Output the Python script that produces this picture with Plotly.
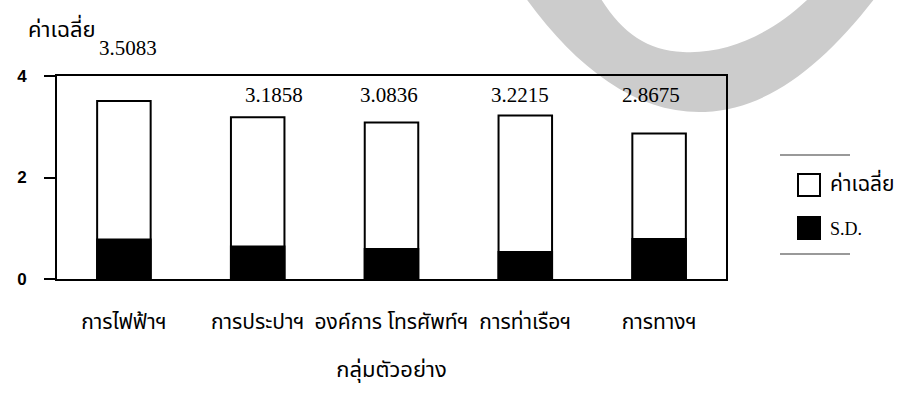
import plotly.graph_objects as go

# ---- data ----
categories = ["การไฟฟ้าฯ", "การประปาฯ", "องค์การ โทรศัพท์ฯ", "การท่าเรือฯ", "การทางฯ"]
means = [3.5083, 3.1858, 3.0836, 3.2215, 2.8675]
sds = [0.78, 0.64, 0.59, 0.53, 0.79]
mean_labels = ["3.5083", "3.1858", "3.0836", "3.2215", "2.8675"]
y_ticks = [0, 2, 4]
series_names = ["ค่าเฉลี่ย", "S.D."]

# ---- layout geometry ----
W, H = 908, 405
L, R, T, B = 57, 182, 76, 126
PW, PH = W - L - R, H - T - B
YMAX = 4

def pxx(x):
    return (x - L) / PW

def pxy(y):
    return (H - B - y) / PH

THAI = "Noto Sans Thai, Noto Sans Thai Looped, Loma, Garuda, sans-serif"
SERIF = "Liberation Serif, Times New Roman, serif"

xs = list(range(len(categories)))

fig = go.Figure()
fig.add_trace(go.Bar(
    x=xs, y=means, name=series_names[0], width=0.4,
    marker=dict(color="white", line=dict(color="black", width=2)),
    showlegend=False,
))
fig.add_trace(go.Bar(
    x=xs, y=sds, name=series_names[1], width=0.4,
    marker=dict(color="black", line=dict(color="black", width=2)),
    showlegend=False,
))

# value labels (placement follows the original chart)
label_dx = [0.03, 0.12, -0.02, -0.04, -0.06]
label_y = [4.55, 3.63, 3.63, 3.63, 3.63]
for i, t in enumerate(mean_labels):
    fig.add_annotation(x=xs[i] + label_dx[i], y=label_y[i] / YMAX, xref="x", yref="paper",
                       text=t, showarrow=False, xanchor="center", yanchor="middle",
                       font=dict(family=SERIF, size=21, color="black"))

# y axis title at top-left
fig.add_annotation(x=pxx(26), y=pxy(31), xref="paper", yref="paper",
                   text="ค่าเฉลี่ย", showarrow=False, xanchor="left", yanchor="middle",
                   font=dict(family=THAI, size=22, color="black"))

# decorative grey watermark arc
pts = "M {a},{b} C {c},{d} {e},{f} {g},{h} C {i},{j} {k},{l} {m},{n} L {o},{p} C {q},{r} {s},{t} {u},{v} C {w},{x} {y},{z} {aa},{bb} Z"
vals = [510, -25, 565, 60, 632, 115, 705, 112, 775, 109, 835, 55, 892, -25,
        830, -25, 790, 25, 735, 55, 683, 52, 640, 50, 612, 25, 588, -25]
conv = []
for k in range(0, len(vals), 2):
    conv += [round(pxx(vals[k]), 5), round(pxy(vals[k + 1]), 5)]
keys = ["a","b","c","d","e","f","g","h","i","j","k","l","m","n","o","p","q","r","s","t","u","v","w","x","y","z","aa","bb"]
path = pts.format(**dict(zip(keys, conv)))
fig.add_shape(type="path", path=path, xref="paper", yref="paper",
              fillcolor="#cccccc", line=dict(width=0), layer="below")

# manual legend
fig.add_shape(type="line", xref="paper", yref="paper",
              x0=pxx(780), x1=pxx(850), y0=pxy(155), y1=pxy(155),
              line=dict(color="#777777", width=1.5))
fig.add_shape(type="line", xref="paper", yref="paper",
              x0=pxx(780), x1=pxx(850), y0=pxy(254), y1=pxy(254),
              line=dict(color="#777777", width=1.5))
fig.add_shape(type="rect", xref="paper", yref="paper",
              x0=pxx(798), x1=pxx(820), y0=pxy(174), y1=pxy(196),
              fillcolor="white", line=dict(color="black", width=2))
fig.add_shape(type="rect", xref="paper", yref="paper",
              x0=pxx(798), x1=pxx(820), y0=pxy(217), y1=pxy(239),
              fillcolor="black", line=dict(color="black", width=2))
fig.add_annotation(x=pxx(828), y=pxy(184), xref="paper", yref="paper",
                   text=series_names[0], showarrow=False, xanchor="left", yanchor="middle",
                   font=dict(family=THAI, size=21, color="black"))
fig.add_annotation(x=pxx(828), y=pxy(229), xref="paper", yref="paper",
                   text=series_names[1], showarrow=False, xanchor="left", yanchor="middle",
                   font=dict(family=SERIF, size=18, color="black"))

fig.update_layout(
    width=W, height=H,
    margin=dict(l=L, r=R, t=T, b=B, pad=0),
    barmode="overlay",
    paper_bgcolor="white",
    plot_bgcolor="rgba(0,0,0,0)",
    showlegend=False,
    xaxis=dict(
        range=[-0.5, len(categories) - 0.5],
        tickmode="array", tickvals=xs, ticktext=categories,
        showline=True, linecolor="black", linewidth=2, mirror=True,
        ticks="", showgrid=False, zeroline=False,
        ticklabelstandoff=23,
        tickfont=dict(family=THAI, size=21, color="black"),
        title=dict(text="กลุ่มตัวอย่าง", standoff=24,
                   font=dict(family=THAI, size=22, color="black")),
    ),
    yaxis=dict(
        range=[0, YMAX], tickmode="array", tickvals=y_ticks,
        ticktext=[str(v) for v in y_ticks],
        showline=True, linecolor="black", linewidth=2, mirror=True,
        ticks="outside", ticklen=11, tickwidth=2, tickcolor="black",
        ticklabelstandoff=14,
        showgrid=False, zeroline=False,
        tickfont=dict(family="Liberation Sans, Arial, sans-serif", size=17, color="black",
                      weight="bold"),
    ),
)

fig.write_html("out.html")
